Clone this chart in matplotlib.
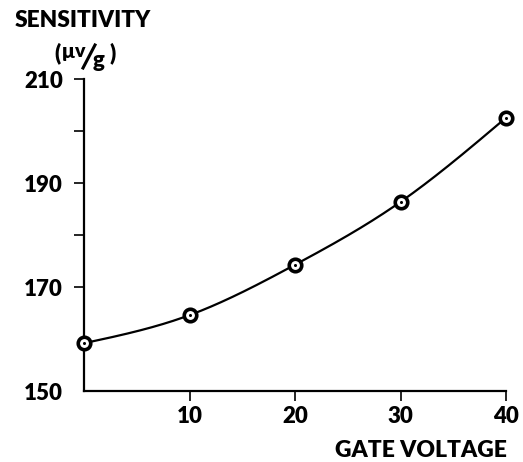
import numpy as np
import matplotlib
matplotlib.use("Agg")
import matplotlib.pyplot as plt
from matplotlib.ticker import FixedLocator

# Data
gate_voltage = [0, 10, 20, 30, 40]
sensitivity = [159.2, 164.6, 174.3, 186.4, 202.6]

y_major = [150, 170, 190, 210]
y_minor = [180, 200]
x_ticks = [10, 20, 30, 40]

FONT = "Lato"
WORD_W = "heavy"
W, H = 523, 462
fig = plt.figure(figsize=(W / 100, H / 100), dpi=100)
ax = fig.add_axes([84 / W, (H - 391) / H, 422 / W, (391 - 79.3) / H])


def natural_spline(x, y, n=300):
    x = np.asarray(x, float)
    y = np.asarray(y, float)
    k = len(x)
    h = np.diff(x)
    A = np.zeros((k, k))
    b = np.zeros(k)
    A[0, 0] = A[-1, -1] = 1
    for i in range(1, k - 1):
        A[i, i - 1] = h[i - 1]
        A[i, i] = 2 * (h[i - 1] + h[i])
        A[i, i + 1] = h[i]
        b[i] = 6 * ((y[i + 1] - y[i]) / h[i] - (y[i] - y[i - 1]) / h[i - 1])
    M = np.linalg.solve(A, b)
    xs = np.linspace(x[0], x[-1], n)
    ys = np.empty_like(xs)
    for j, xv in enumerate(xs):
        i = min(np.searchsorted(x, xv, side="right") - 1, k - 2)
        t1 = x[i + 1] - xv
        t0 = xv - x[i]
        ys[j] = (M[i] * t1 ** 3 + M[i + 1] * t0 ** 3) / (6 * h[i]) \
            + (y[i] / h[i] - M[i] * h[i] / 6) * t1 \
            + (y[i + 1] / h[i] - M[i + 1] * h[i] / 6) * t0
    return xs, ys


xs, ys = natural_spline(gate_voltage, sensitivity)
ax.plot(xs, ys, color="black", lw=1.6, zorder=3, clip_on=False)
ax.plot(gate_voltage, sensitivity, linestyle="none", marker="o", ms=9,
        mfc="white", mec="black", mew=2.6, zorder=4, clip_on=False)
ax.plot(gate_voltage, sensitivity, linestyle="none", marker="o", ms=2.2,
        mfc="black", mec="black", mew=0, zorder=5, clip_on=False)

ax.set_xlim(0, 40)
ax.set_ylim(150, 210)
for s in ("top", "right"):
    ax.spines[s].set_visible(False)
for s in ("left", "bottom"):
    ax.spines[s].set_linewidth(1.6)

ax.yaxis.set_major_locator(FixedLocator(y_major))
ax.yaxis.set_minor_locator(FixedLocator(y_minor))
ax.set_yticklabels([str(v) for v in y_major])
ax.set_xticks(x_ticks)
ax.set_xticklabels([str(v) for v in x_ticks])

ax.tick_params(axis="y", which="both", direction="out", length=7.2, width=1.2)
ax.tick_params(axis="y", which="major", pad=8)
ax.tick_params(axis="x", direction="out", length=7.2, width=1.2, pad=3.6)
for lab in ax.get_xticklabels() + ax.get_yticklabels():
    lab.set_fontfamily(FONT)
    lab.set_fontweight(WORD_W)
    lab.set_fontsize(16)
ax.yaxis.get_major_ticks()[0].tick1line.set_visible(False)

fig.text(15 / W, 1 - 27 / H, "SENSITIVITY", fontfamily=FONT, fontweight=WORD_W,
         fontsize=16.3, ha="left", va="baseline")
# (μ v/g)
fig.text(54 / W, 1 - 60 / H, "(", fontfamily=FONT, fontweight=WORD_W, fontsize=16,
         ha="left", va="baseline")
fig.text(62 / W, 1 - 58 / H, "μ", fontfamily=FONT, fontweight=WORD_W, fontsize=15,
         ha="left", va="baseline")
fig.text(74 / W, 1 - 57 / H, "v", fontfamily=FONT, fontweight=WORD_W, fontsize=14,
         ha="left", va="baseline")
fig.add_artist(plt.Line2D([83 / W, 95 / W], [1 - 68 / H, 1 - 45 / H],
                          color="black", lw=2.2, transform=fig.transFigure))
fig.text(93 / W, 1 - 67 / H, "g", fontfamily=FONT, fontweight=WORD_W, fontsize=16,
         ha="left", va="baseline")
fig.text(109 / W, 1 - 60 / H, ")", fontfamily=FONT, fontweight=WORD_W, fontsize=16,
         ha="left", va="baseline")

fig.text(507 / W, 1 - 457 / H, "GATE VOLTAGE", fontfamily=FONT, fontweight=WORD_W,
         fontsize=16.5, ha="right", va="baseline")

fig.savefig("out.png", dpi=100)
